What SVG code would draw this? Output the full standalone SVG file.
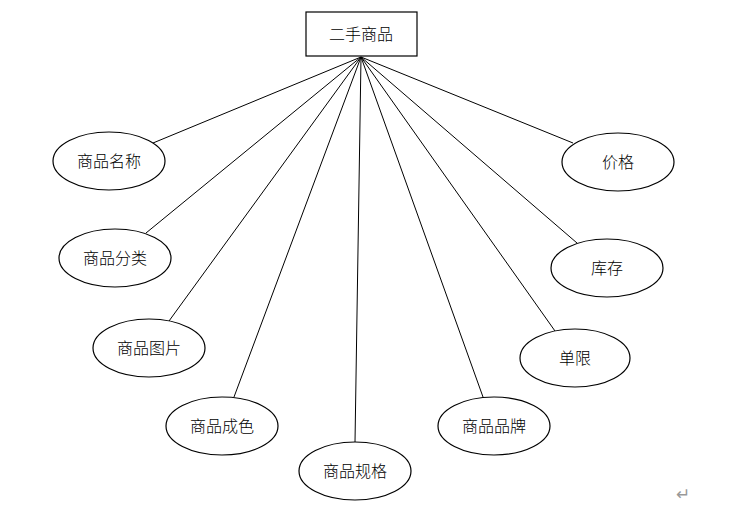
<svg xmlns="http://www.w3.org/2000/svg" width="743" height="509" viewBox="0 0 743 509">
<style>
.n{fill:#fff;stroke:#000;stroke-width:1.2}
.t{font-family:"Noto Sans CJK SC","Noto Sans CJK JP",sans-serif;font-size:16px;font-weight:300;fill:#000;text-anchor:middle;dominant-baseline:central}
.c line{stroke:#000;stroke-width:1}
</style>
<rect width="743" height="509" fill="#fff"/>
<g id="connectors" class="c">
<line x1="361" y1="57" x2="153" y2="143"/>
<line x1="361" y1="57" x2="146" y2="233"/>
<line x1="361" y1="57" x2="169" y2="321"/>
<line x1="361" y1="57" x2="234" y2="397"/>
<line x1="361" y1="57" x2="355" y2="442"/>
<line x1="361" y1="57" x2="483" y2="397"/>
<line x1="361" y1="57" x2="555" y2="331"/>
<line x1="361" y1="57" x2="577" y2="243"/>
<line x1="361" y1="57" x2="573" y2="143"/>
</g>
<g id="root"><rect class="n" x="306" y="12" width="111" height="44"/><text class="t" x="361" y="33">二手商品</text></g>
<g id="name"><ellipse class="n" cx="109" cy="161" rx="56" ry="29"/><text class="t" x="109" y="160">商品名称</text></g>
<g id="category"><ellipse class="n" cx="115" cy="258" rx="56" ry="29"/><text class="t" x="115" y="257">商品分类</text></g>
<g id="image"><ellipse class="n" cx="149" cy="348" rx="56" ry="29"/><text class="t" x="149" y="347">商品图片</text></g>
<g id="condition"><ellipse class="n" cx="222" cy="426" rx="56" ry="29"/><text class="t" x="222" y="425">商品成色</text></g>
<g id="spec"><ellipse class="n" cx="355" cy="471" rx="56" ry="29"/><text class="t" x="355" y="470">商品规格</text></g>
<g id="brand"><ellipse class="n" cx="494" cy="426" rx="56" ry="29"/><text class="t" x="494" y="425">商品品牌</text></g>
<g id="limit"><ellipse class="n" cx="575" cy="358" rx="55" ry="29"/><text class="t" x="575" y="357">单限</text></g>
<g id="stock"><ellipse class="n" cx="607" cy="268" rx="56" ry="29"/><text class="t" x="607" y="267">库存</text></g>
<g id="price"><ellipse class="n" cx="618" cy="162" rx="56" ry="29"/><text class="t" x="618" y="161">价格</text></g>
<text x="683" y="500" font-family="'DejaVu Sans',sans-serif" font-size="17" fill="#999" text-anchor="middle">↵</text>
</svg>
